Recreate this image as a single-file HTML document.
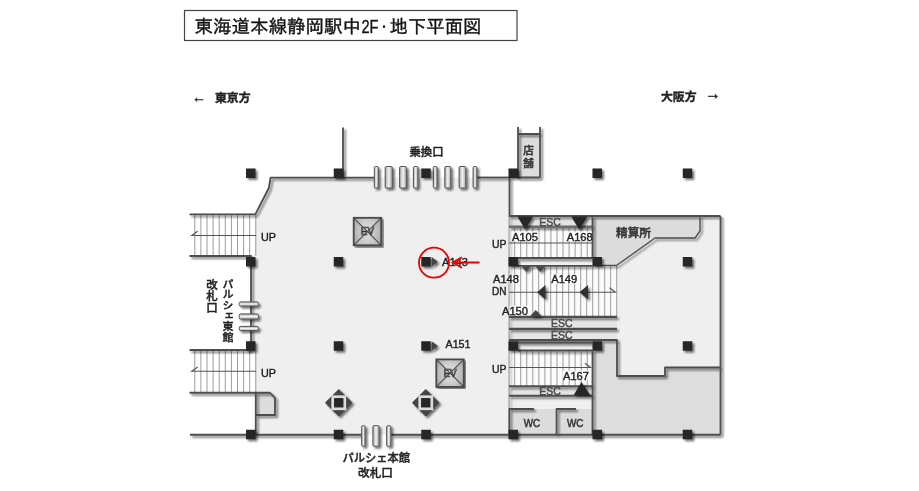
<!DOCTYPE html>
<html lang="ja"><head><meta charset="utf-8"><title>東海道本線静岡駅中2F・地下平面図</title>
<style>
html,body{margin:0;padding:0;background:#fff;}
body{width:919px;height:491px;overflow:hidden;position:relative;}
svg{position:absolute;left:0;top:0;display:block;filter:blur(0.4px);}
text{font-family:"Liberation Sans","Noto Sans CJK JP",sans-serif;stroke:#222;stroke-width:0.4px;paint-order:stroke;}
.t{font-family:"Liberation Sans","IPAGothic","Noto Sans CJK JP",sans-serif;}
.b{font-weight:bold;}
.m{font-weight:500;}
</style></head><body>
<svg width="919" height="491" viewBox="0 0 919 491">
<defs>
<filter id="sh" x="-5%" y="-5%" width="112%" height="112%">
<feGaussianBlur in="SourceAlpha" stdDeviation="1.3" result="b"/>
<feOffset in="b" dx="2" dy="2" result="o"/>
<feComponentTransfer in="o" result="s"><feFuncA type="linear" slope="0.55"/></feComponentTransfer>
<feMerge><feMergeNode in="s"/><feMergeNode in="SourceGraphic"/></feMerge>
</filter>
<radialGradient id="evg" cx="50%" cy="50%" r="70%"><stop offset="0" stop-color="#e2e2e2"/><stop offset="0.55" stop-color="#cdcdcd"/><stop offset="1" stop-color="#a8a8a8"/></radialGradient>
<linearGradient id="bg" x1="0" x2="1" y1="0" y2="0"><stop offset="0" stop-color="#a4a4a4"/><stop offset="0.5" stop-color="#f2f2f2"/><stop offset="1" stop-color="#a4a4a4"/></linearGradient>
<linearGradient id="bgv" x1="0" x2="0" y1="0" y2="1"><stop offset="0" stop-color="#a4a4a4"/><stop offset="0.5" stop-color="#f2f2f2"/><stop offset="1" stop-color="#a4a4a4"/></linearGradient>
<filter id="soft"><feGaussianBlur stdDeviation="0.35"/></filter>
</defs>
<rect width="919" height="491" fill="#fff"/>

<rect x="184.5" y="10.5" width="332.5" height="30" fill="#fff" stroke="#444" stroke-width="1.2"/>
<text class="t" y="32.5" font-size="18.5" fill="#111" stroke="#111" stroke-width="0.35"><tspan x="194.5" textLength="166.5" lengthAdjust="spacingAndGlyphs">東海道本線静岡駅中</tspan><tspan x="361.5" textLength="17" lengthAdjust="spacingAndGlyphs">2F</tspan><tspan x="377" font-size="14" dy="-1">・</tspan><tspan x="389.5" dy="1" textLength="92" lengthAdjust="spacingAndGlyphs">地下平面図</tspan></text>
<text class="b" y="102" font-size="11.5" fill="#222"><tspan x="192" dy="-0.5" font-size="14" font-weight="normal">←</tspan><tspan x="215" dy="0" textLength="35.5" lengthAdjust="spacingAndGlyphs">東京方</tspan></text>
<text class="b" y="101" font-size="11.5" fill="#222"><tspan x="661" textLength="35.5" lengthAdjust="spacingAndGlyphs">大阪方</tspan><tspan x="705" dy="-2" font-size="16" font-weight="normal">→</tspan></text>
<g filter="url(#soft)">
<polygon points="270.6,177.5 509,177.5 509,216 720,216 720,434.5 255.75,434.5 255.75,392.75 255,392.75 255,350 251,350 251,256 255,256 255.3,214 268.8,188" fill="#efefef"/>
<rect x="189.5" y="214" width="65.5" height="42" fill="#fff"/>
<rect x="189.5" y="350" width="65.5" height="42.75" fill="#fff"/>
<rect x="509" y="227" width="83.5" height="31.5" fill="#fbfbfb"/>
<rect x="509" y="266" width="108" height="50.5" fill="#fbfbfb"/>
<rect x="509" y="350.5" width="83.5" height="36" fill="#fbfbfb"/>
<rect x="509" y="216" width="83.5" height="11" fill="#e4e4e4"/>
<rect x="509" y="317" width="108" height="23" fill="#e6e6e6"/>
<rect x="509" y="386.5" width="83.5" height="9.5" fill="#e4e4e4"/>
<polygon points="592.5,216 700,216 700,231 695,238 655,238 616.5,265.5 592.5,265.5" fill="#dcdcdc"/>
<polygon points="593,340 617,340 617,376 665,376 665,367.5 720,367.5 720,434.5 593,434.5" fill="#dddddd"/>
<rect x="518" y="134" width="22" height="43.5" fill="#dcdcdc"/>
<rect x="509" y="409" width="46" height="25.5" fill="#dcdcdc"/>
<rect x="556.5" y="409" width="36" height="25.5" fill="#dcdcdc"/>
<polygon points="255.75,392.75 270,392.75 275,398 275,415 255.75,415" fill="#dcdcdc"/>
</g>
<g stroke="#848484" stroke-width="0.8" fill="none">
<line x1="194.80" y1="214.5" x2="194.80" y2="256"/>
<line x1="194.80" y1="350.5" x2="194.80" y2="392.75"/>
<line x1="200.90" y1="214.5" x2="200.90" y2="256"/>
<line x1="200.90" y1="350.5" x2="200.90" y2="392.75"/>
<line x1="207.00" y1="214.5" x2="207.00" y2="256"/>
<line x1="207.00" y1="350.5" x2="207.00" y2="392.75"/>
<line x1="213.10" y1="214.5" x2="213.10" y2="256"/>
<line x1="213.10" y1="350.5" x2="213.10" y2="392.75"/>
<line x1="219.20" y1="214.5" x2="219.20" y2="256"/>
<line x1="219.20" y1="350.5" x2="219.20" y2="392.75"/>
<line x1="225.30" y1="214.5" x2="225.30" y2="256"/>
<line x1="225.30" y1="350.5" x2="225.30" y2="392.75"/>
<line x1="231.40" y1="214.5" x2="231.40" y2="256"/>
<line x1="231.40" y1="350.5" x2="231.40" y2="392.75"/>
<line x1="237.50" y1="214.5" x2="237.50" y2="256"/>
<line x1="237.50" y1="350.5" x2="237.50" y2="392.75"/>
<line x1="243.60" y1="214.5" x2="243.60" y2="256"/>
<line x1="243.60" y1="350.5" x2="243.60" y2="392.75"/>
<line x1="249.70" y1="214.5" x2="249.70" y2="256"/>
<line x1="249.70" y1="350.5" x2="249.70" y2="392.75"/>
<line x1="255.80" y1="214.5" x2="255.80" y2="256"/>
<line x1="255.80" y1="350.5" x2="255.80" y2="392.75"/>
<line x1="514.65" y1="227" x2="514.65" y2="258"/>
<line x1="514.65" y1="351" x2="514.65" y2="386"/>
<line x1="520.70" y1="227" x2="520.70" y2="258"/>
<line x1="520.70" y1="351" x2="520.70" y2="386"/>
<line x1="526.75" y1="227" x2="526.75" y2="258"/>
<line x1="526.75" y1="351" x2="526.75" y2="386"/>
<line x1="532.80" y1="227" x2="532.80" y2="258"/>
<line x1="532.80" y1="351" x2="532.80" y2="386"/>
<line x1="538.85" y1="227" x2="538.85" y2="258"/>
<line x1="538.85" y1="351" x2="538.85" y2="386"/>
<line x1="544.90" y1="227" x2="544.90" y2="258"/>
<line x1="544.90" y1="351" x2="544.90" y2="386"/>
<line x1="550.95" y1="227" x2="550.95" y2="258"/>
<line x1="550.95" y1="351" x2="550.95" y2="386"/>
<line x1="557.00" y1="227" x2="557.00" y2="258"/>
<line x1="557.00" y1="351" x2="557.00" y2="386"/>
<line x1="563.05" y1="227" x2="563.05" y2="258"/>
<line x1="563.05" y1="351" x2="563.05" y2="386"/>
<line x1="569.10" y1="227" x2="569.10" y2="258"/>
<line x1="569.10" y1="351" x2="569.10" y2="386"/>
<line x1="575.15" y1="227" x2="575.15" y2="258"/>
<line x1="575.15" y1="351" x2="575.15" y2="386"/>
<line x1="581.20" y1="227" x2="581.20" y2="258"/>
<line x1="581.20" y1="351" x2="581.20" y2="386"/>
<line x1="587.25" y1="227" x2="587.25" y2="258"/>
<line x1="587.25" y1="351" x2="587.25" y2="386"/>
<line x1="514.70" y1="266" x2="514.70" y2="317"/>
<line x1="520.70" y1="266" x2="520.70" y2="317"/>
<line x1="526.70" y1="266" x2="526.70" y2="317"/>
<line x1="532.70" y1="266" x2="532.70" y2="317"/>
<line x1="538.70" y1="266" x2="538.70" y2="317"/>
<line x1="544.70" y1="266" x2="544.70" y2="317"/>
<line x1="550.70" y1="266" x2="550.70" y2="317"/>
<line x1="556.70" y1="266" x2="556.70" y2="317"/>
<line x1="562.70" y1="266" x2="562.70" y2="317"/>
<line x1="568.70" y1="266" x2="568.70" y2="317"/>
<line x1="574.70" y1="266" x2="574.70" y2="317"/>
<line x1="580.70" y1="266" x2="580.70" y2="317"/>
<line x1="586.70" y1="266" x2="586.70" y2="317"/>
<line x1="592.70" y1="266" x2="592.70" y2="317"/>
<line x1="598.70" y1="266" x2="598.70" y2="317"/>
<line x1="604.70" y1="266" x2="604.70" y2="317"/>
<line x1="610.70" y1="266" x2="610.70" y2="317"/>
<line x1="616.70" y1="266" x2="616.70" y2="317"/>
</g>
<g stroke="#555" stroke-width="1.1" fill="none">
<path d="M256,235.5 H191.7 l6,-4.3"/>
<path d="M256,371.3 H191.7 l6,-4.3"/>
<path d="M509,243 H592.5"/>
<path d="M509,292.3 H615.5 l-6,-4.6"/>
<path d="M509,367.5 H590.5 l-5.5,-4.3"/>
</g>
<g filter="url(#sh)" stroke="#4d4d4d" stroke-width="1.8" fill="none" stroke-linejoin="round" stroke-linecap="butt">
<path d="M189.5,214.3 H255.3 L268.8,188 L270.6,177.7 H374"/>
<path d="M477,177.5 H509"/>
<path d="M343,127.5 V177"/>
<path d="M189.5,256 H251 V350"/>
<path d="M189.5,350 H251"/>
<path d="M189.5,392.75 H255.75 V434.5"/>
<path d="M255.75,392.75 H270 L275,398 V415 H255.75"/>
<path d="M190,434.75 H361"/>
<path d="M391,434.75 H720.5"/>
<path d="M509.5,177.5 V216 H719 Q720.5,216 720.5,217.5 V434.75"/>
<path d="M518,127 V177.5 M540,127 V177.5 M518,134 H540 M518,177.5 H540"/>
<path d="M509,226.8 H592.5" stroke-width="2.4" stroke="#6c6c6c"/>
<path d="M592.5,216 V258"/>
<path d="M518,258 H592.5 M518,265.8 H592.5"/>
<path d="M509,216 V409" stroke-width="0.8" stroke="#777"/>
<path d="M700,216 V231 L695,238 H655 L616.5,265.5 H602" stroke-width="1.4"/>
<path d="M509,316.8 H617" stroke-width="2.2"/>
<path d="M509,328.8 H617" stroke-width="2.2"/>
<path d="M509,340 H617 V376 H665 V367.5 H720"/>
<path d="M518,342.5 H592.5 M518,350.5 H592.5"/>
<path d="M592.5,350 V434.5"/>
<path d="M509,386.3 H592.5" stroke-width="2"/>
<path d="M509,395.8 H592.5" stroke-width="2"/>
<path d="M509.3,434 V409 H534 M556.5,434.5 V409 H576"/>
</g>
<g filter="url(#sh)" stroke="#555" stroke-width="1">
<rect x="374.30" y="166.5" width="4.00" height="21.5" rx="1" fill="url(#bg)"/>
<rect x="385.20" y="166.5" width="7.10" height="21.5" rx="1" fill="url(#bg)"/>
<rect x="399.60" y="166.5" width="6.80" height="21.5" rx="1" fill="url(#bg)"/>
<rect x="413.40" y="166.5" width="4.50" height="21.5" rx="1" fill="url(#bg)"/>
<rect x="433.30" y="166.5" width="3.80" height="21.5" rx="1" fill="url(#bg)"/>
<rect x="444.80" y="166.5" width="6.00" height="21.5" rx="1" fill="url(#bg)"/>
<rect x="459.10" y="166.5" width="6.70" height="21.5" rx="1" fill="url(#bg)"/>
<rect x="473.10" y="166.5" width="3.80" height="21.5" rx="1" fill="url(#bg)"/>
<rect x="361.65" y="425.7" width="3.45" height="20.5" rx="1" fill="url(#bg)"/>
<rect x="372.90" y="425.7" width="6.20" height="20.5" rx="1" fill="url(#bg)"/>
<rect x="386.65" y="425.7" width="4.20" height="20.5" rx="1" fill="url(#bg)"/>
<rect x="239.2" y="301.90" width="19.2" height="4.20" rx="1.5" fill="url(#bgv)"/>
<rect x="239.2" y="313.90" width="19.2" height="5.20" rx="1.5" fill="url(#bgv)"/>
<rect x="239.2" y="326.40" width="19.2" height="4.20" rx="1.5" fill="url(#bgv)"/>
</g>
<g filter="url(#sh)" fill="#262626">
<rect x="246.00" y="168.50" width="9.5" height="9.5"/>
<rect x="333.75" y="168.50" width="9.5" height="9.5"/>
<rect x="421.25" y="168.50" width="9.5" height="9.5"/>
<rect x="508.50" y="168.50" width="9.5" height="9.5"/>
<rect x="592.50" y="168.50" width="9.5" height="9.5"/>
<rect x="682.75" y="168.50" width="9.5" height="9.5"/>
<rect x="246.00" y="257.00" width="9.5" height="9.5"/>
<rect x="333.75" y="257.00" width="9.5" height="9.5"/>
<rect x="421.25" y="257.00" width="9.5" height="9.5"/>
<rect x="508.50" y="257.00" width="9.5" height="9.5"/>
<rect x="592.50" y="257.00" width="9.5" height="9.5"/>
<rect x="682.75" y="257.00" width="9.5" height="9.5"/>
<rect x="246.00" y="341.25" width="9.5" height="9.5"/>
<rect x="333.75" y="341.25" width="9.5" height="9.5"/>
<rect x="421.25" y="341.25" width="9.5" height="9.5"/>
<rect x="508.50" y="341.25" width="9.5" height="9.5"/>
<rect x="592.50" y="341.25" width="9.5" height="9.5"/>
<rect x="682.75" y="341.25" width="9.5" height="9.5"/>
<rect x="246.00" y="429.75" width="9.5" height="9.5"/>
<rect x="333.75" y="429.75" width="9.5" height="9.5"/>
<rect x="421.25" y="429.75" width="9.5" height="9.5"/>
<rect x="508.50" y="429.75" width="9.5" height="9.5"/>
<rect x="592.50" y="429.75" width="9.5" height="9.5"/>
<rect x="682.75" y="429.75" width="9.5" height="9.5"/>
<polygon points="431.6,257 437.9,261.75 431.6,266.5" fill="#444"/>
<polygon points="431.6,341.2 437.9,346 431.6,350.8" fill="#444"/>
<g transform="translate(338.75,402.75)">
<polygon points="0,-13.8 13.8,0 0,13.8 -13.8,0" fill="#444"/>
<rect x="-7.4" y="-7.4" width="14.8" height="14.8" fill="#dcdcdc"/>
<rect x="-4.7" y="-4.7" width="9.4" height="9.4"/>
</g>
<g transform="translate(425.75,402.75)">
<polygon points="0,-13.8 13.8,0 0,13.8 -13.8,0" fill="#444"/>
<rect x="-7.4" y="-7.4" width="14.8" height="14.8" fill="#dcdcdc"/>
<rect x="-4.7" y="-4.7" width="9.4" height="9.4"/>
</g>
<polygon points="517.5,216.5 533,216.5 525.25,229.5"/>
<polygon points="571.25,216.5 587.5,216.5 579.25,229.5"/>
<polygon points="573.75,395 590,395 581.5,382"/>
<polygon points="545.5,285 545.5,299.5 537,292.25" fill="#333"/>
<polygon points="588,285 588,299.5 579.5,292.25" fill="#333"/>
<polygon points="521.5,266.3 531,266.3 526.25,272" fill="#444"/>
<polygon points="535.5,266.3 545,266.3 540.25,272" fill="#444"/>
<polygon points="530,316.3 541.5,316.3 535.75,310" fill="#444"/>
</g>
<g filter="url(#sh)" transform="translate(353.7,217.8)">
<rect x="0" y="0" width="27.5" height="27.5" fill="url(#evg)"/>
<polygon points="0,0 13.75,13.75 0,27.5" fill="#000" fill-opacity="0.07"/>
<polygon points="27.5,0 13.75,13.75 27.5,27.5" fill="#000" fill-opacity="0.07"/>
<path d="M0,0 L27.5,27.5 M27.5,0 L0,27.5" stroke="#4e4e4e" stroke-width="1.2" fill="none"/>
<rect x="0" y="0" width="27.5" height="27.5" fill="none" stroke="#484848" stroke-width="1.8"/>
<text x="13.75" y="17.3" font-size="10" text-anchor="middle" fill="#d4d4d4" style="stroke:#333;stroke-width:0.7px;paint-order:fill">EV</text>
</g>
<g filter="url(#sh)" transform="translate(436.3,359.4)">
<rect x="0" y="0" width="27.5" height="27.5" fill="url(#evg)"/>
<polygon points="0,0 13.75,13.75 0,27.5" fill="#000" fill-opacity="0.07"/>
<polygon points="27.5,0 13.75,13.75 27.5,27.5" fill="#000" fill-opacity="0.07"/>
<path d="M0,0 L27.5,27.5 M27.5,0 L0,27.5" stroke="#4e4e4e" stroke-width="1.2" fill="none"/>
<rect x="0" y="0" width="27.5" height="27.5" fill="none" stroke="#484848" stroke-width="1.8"/>
<text x="13.75" y="17.3" font-size="10" text-anchor="middle" fill="#d4d4d4" style="stroke:#333;stroke-width:0.7px;paint-order:fill">EV</text>
</g>
<rect x="511.5" y="231.5" width="27" height="9.5" fill="#fff" fill-opacity="0.85"/>
<rect x="566.5" y="231.5" width="25.5" height="9.5" fill="#fff" fill-opacity="0.85"/>
<rect x="509.5" y="274.3" width="10" height="9.5" fill="#fff" fill-opacity="0.85"/>
<rect x="550.8" y="274.3" width="27" height="9.5" fill="#fff" fill-opacity="0.85"/>
<rect x="509.5" y="305.7" width="19" height="9.5" fill="#fff" fill-opacity="0.85"/>
<rect x="562.5" y="370.7" width="27" height="9.5" fill="#fff" fill-opacity="0.85"/>
<text x="261" y="240.5" font-size="11" fill="#222" textLength="15" lengthAdjust="spacingAndGlyphs">UP</text>
<text x="261" y="376.5" font-size="11" fill="#222" textLength="15" lengthAdjust="spacingAndGlyphs">UP</text>
<text x="492" y="247.5" font-size="11" fill="#222" textLength="14.5" lengthAdjust="spacingAndGlyphs">UP</text>
<text x="492" y="372.5" font-size="11" fill="#222" textLength="14.5" lengthAdjust="spacingAndGlyphs">UP</text>
<text x="492" y="295" font-size="11" fill="#222" textLength="14.5" lengthAdjust="spacingAndGlyphs">DN</text>
<text x="512" y="240.5" font-size="11" fill="#222" textLength="26" lengthAdjust="spacingAndGlyphs">A105</text>
<text x="566.75" y="240.5" font-size="11" fill="#222" textLength="26" lengthAdjust="spacingAndGlyphs">A168</text>
<text x="493" y="283" font-size="11" fill="#222" textLength="26" lengthAdjust="spacingAndGlyphs">A148</text>
<text x="551.25" y="283" font-size="11" fill="#222" textLength="26" lengthAdjust="spacingAndGlyphs">A149</text>
<text x="502" y="314.5" font-size="11" fill="#222" textLength="26" lengthAdjust="spacingAndGlyphs">A150</text>
<text x="563" y="379.5" font-size="11" fill="#222" textLength="26" lengthAdjust="spacingAndGlyphs">A167</text>
<text x="442" y="266.3" font-size="11" fill="#222" textLength="26" lengthAdjust="spacingAndGlyphs">A143</text>
<text x="445.5" y="348" font-size="11" fill="#222" textLength="25" lengthAdjust="spacingAndGlyphs">A151</text>
<text x="539.25" y="226" font-size="11" fill="#4a4a4a" textLength="21.5" lengthAdjust="spacingAndGlyphs" style="stroke:#4a4a4a;stroke-width:0.5px">ESC</text>
<text x="551" y="327" font-size="11" fill="#4a4a4a" textLength="21.5" lengthAdjust="spacingAndGlyphs" style="stroke:#4a4a4a;stroke-width:0.5px">ESC</text>
<text x="551" y="338.8" font-size="11" fill="#4a4a4a" textLength="21.5" lengthAdjust="spacingAndGlyphs" style="stroke:#4a4a4a;stroke-width:0.5px">ESC</text>
<text x="539.25" y="395" font-size="11" fill="#4a4a4a" textLength="21.5" lengthAdjust="spacingAndGlyphs" style="stroke:#4a4a4a;stroke-width:0.5px">ESC</text>
<text x="523.75" y="427" font-size="10" fill="#3a3a3a" textLength="16.5" lengthAdjust="spacingAndGlyphs" style="stroke:#3a3a3a;stroke-width:0.55px">WC</text>
<text x="567" y="427" font-size="10" fill="#3a3a3a" textLength="16.5" lengthAdjust="spacingAndGlyphs" style="stroke:#3a3a3a;stroke-width:0.55px">WC</text>
<text class="m" x="616" y="237" font-size="11.5" fill="#333" textLength="35" lengthAdjust="spacingAndGlyphs">精算所</text>
<text class="m" x="409.5" y="156" font-size="11.5" fill="#222" textLength="34" lengthAdjust="spacingAndGlyphs">乗換口</text>
<text class="m" x="523.2" y="154.3" font-size="10.5" fill="#333">店</text>
<text class="m" x="523.2" y="167" font-size="10.5" fill="#333">舗</text>
<text class="m" x="342.5" y="461.5" font-size="11.5" fill="#222" textLength="67.5" lengthAdjust="spacingAndGlyphs">パルシェ本館</text>
<text class="m" x="358" y="476.8" font-size="11.5" fill="#222" textLength="35" lengthAdjust="spacingAndGlyphs">改札口</text>
<text class="m" x="227" y="278.5" font-size="11" fill="#222" writing-mode="vertical-rl" textLength="63.5" lengthAdjust="spacingAndGlyphs">パルシェ東館</text>
<text class="m" x="211" y="278.5" font-size="11.5" fill="#222" writing-mode="vertical-rl" textLength="35" lengthAdjust="spacingAndGlyphs">改札口</text>
<circle cx="434" cy="262.7" r="15" fill="none" stroke="#ee0000" stroke-width="1.8"/>
<path d="M479.5,262.5 H453 M462,257.3 L452.6,262.5 L462,267.7" fill="none" stroke="#ee0000" stroke-width="1.8"/>
</svg></body></html>
